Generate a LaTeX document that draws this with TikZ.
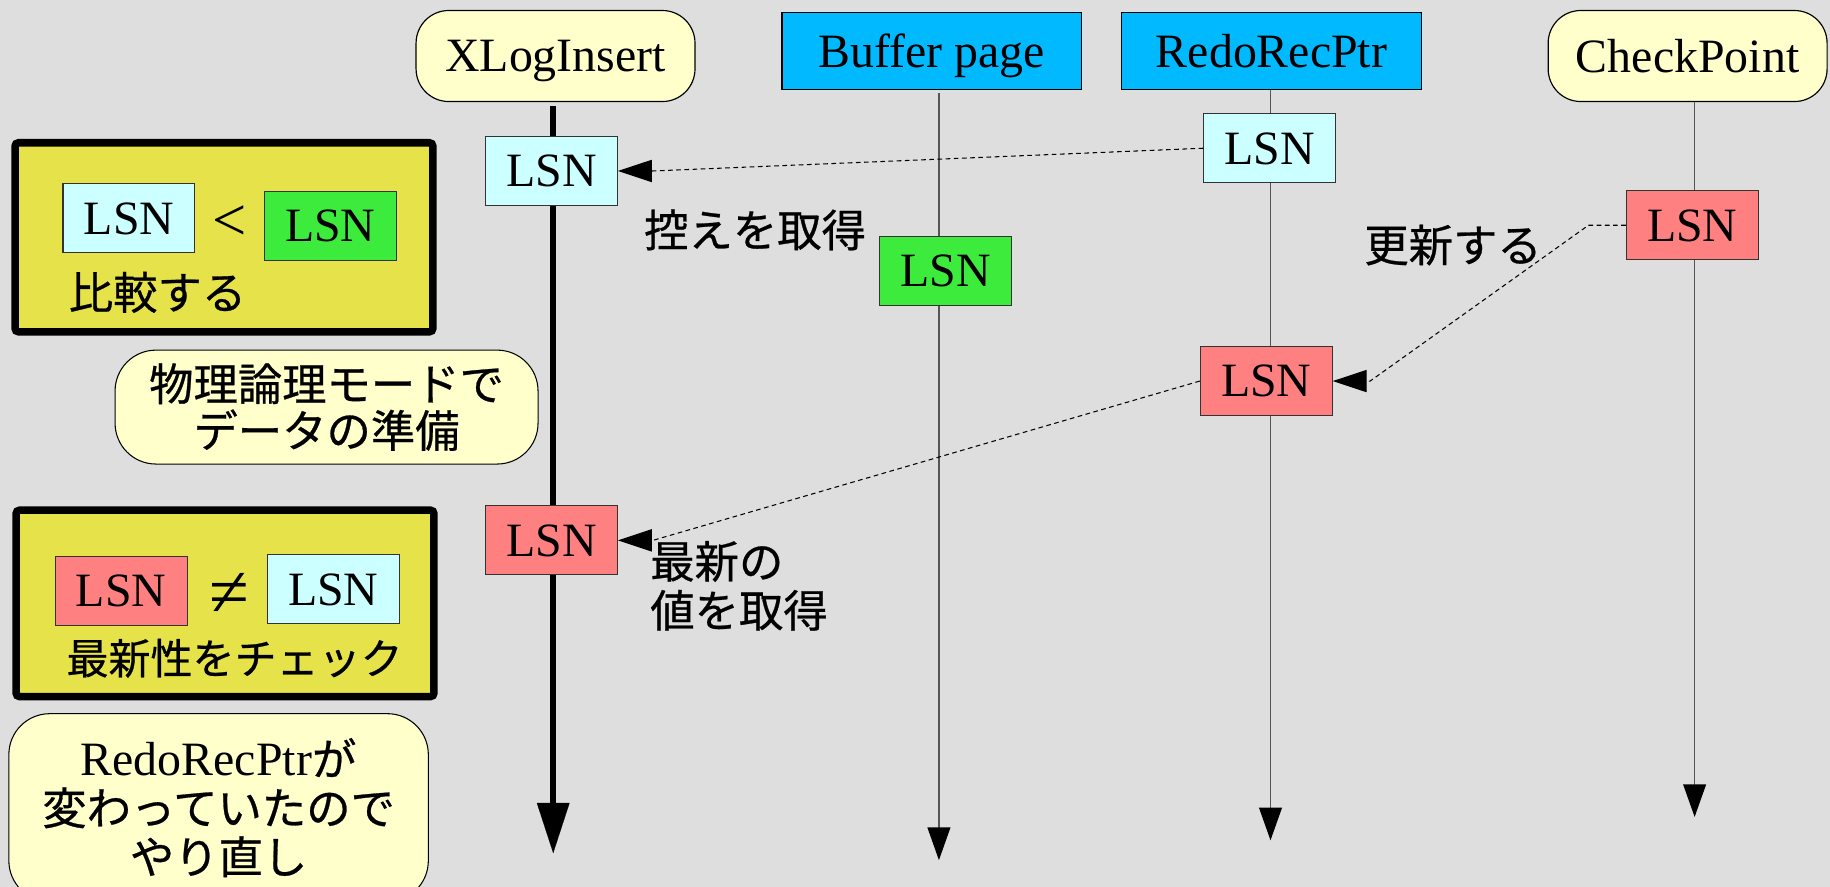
\documentclass[tikz,border=0pt]{standalone}
\usepackage{fontspec}
\setmainfont{Liberation Serif}
\newfontfamily\jp[FakeBold=0.6]{Noto Sans CJK JP}
\usetikzlibrary{arrows.meta,calc}
\definecolor{bgc}{HTML}{DEDEDE}
\definecolor{ylw}{HTML}{FFFFCC}
\definecolor{hblue}{HTML}{00B9FF}
\definecolor{lcyan}{HTML}{CCFFFF}
\definecolor{lgreen}{HTML}{3DEB3D}
\definecolor{lred}{HTML}{FF8080}
\definecolor{olv}{HTML}{E6E34A}
\definecolor{lgray}{HTML}{555555}
\tikzset{
  tmfont/.style={font=\rmfamily\fontsize{41}{48}\selectfont},
  opfont/.style={font=\rmfamily\fontsize{52}{56}\selectfont, inner sep=0pt},
  hdround/.style={draw=black, line width=1pt, fill=ylw, rounded corners=28pt, minimum width=239pt, minimum height=78pt, inner sep=0pt, tmfont, text depth=0pt},
  hdrect/.style={draw=black, line width=1pt, fill=hblue, minimum width=257pt, minimum height=66pt, inner sep=0pt, tmfont, text depth=0pt},
  lsnbox/.style={draw=black!80, line width=0.9pt, minimum width=113pt, minimum height=59pt, inner sep=0pt, tmfont, text depth=0pt},
  olvbox/.style={draw=black, line width=6.5pt, fill=olv, rounded corners=3pt, minimum width=358pt, inner sep=0pt},
  notebox/.style={draw=black, line width=0.9pt, fill=ylw, rounded corners=35pt, inner sep=0pt, align=center, font=\jp\fontsize{38}{40}\selectfont},
  jplabel/.style={inner sep=0pt, font=\jp\fontsize{38}{42}\selectfont},
  thicklife/.style={line width=5.5pt, -{Triangle[length=43pt,width=28pt,line width=0.1pt]}},
  thinlife/.style={draw=lgray, line width=1.3pt, -{Triangle[length=28pt,width=19.5pt,color=black]}},
  dasharr/.style={draw=black, line width=0.9pt, dash pattern=on 4pt off 3pt, -{Triangle[length=29pt,width=19pt]}},
}
\begin{document}
\begin{tikzpicture}[x=1pt,y=-1pt]
\useasboundingbox (0,0) rectangle (1568,760);
\fill[bgc] (0,0) rectangle (1568,760);
\clip (0,0) rectangle (1568,760);

% headers
\node[hdround] (XL) at (476,48) {XLogInsert};
\node[hdrect] (BP) at (798.5,43.5) {Buffer page};
\node[hdrect] (RR) at (1089.5,44) {RedoRecPtr};
\node[hdround] (CP) at (1446,48) {CheckPoint};

% lifelines
\coordinate (XLtop) at (474,91);
\coordinate (XLend) at (474,731);
\coordinate (BPtop) at (804.5,80);
\coordinate (BPend) at (804.5,737);
\coordinate (RRend) at (1088.6,720);
\coordinate (CPend) at (1452,700);
\draw[thicklife] (XLtop) -- (XLend);
\draw[thinlife] (BPtop) -- (BPend);
\draw[thinlife] (RR.south -| RRend) -- (RRend);
\draw[thinlife] (CP.south -| CPend) -- (CPend);

% LSN boxes on lifelines
\node[lsnbox, fill=lcyan] (L1) at (472.5,146.5) {LSN};
\node[lsnbox, fill=lcyan] (L2) at (1088,127) {LSN};
\node[lsnbox, fill=lgreen] (L3) at (810,232) {LSN};
\node[lsnbox, fill=lred] (L4) at (1450,193) {LSN};
\node[lsnbox, fill=lred] (L5) at (1085,326.5) {LSN};
\node[lsnbox, fill=lred] (L6) at (472.5,463) {LSN};

% dashed arrows
\draw[dasharr] (L2.west) -- ($(L1.east)+(30,0)$) -- (L1.east);
\draw[dasharr] (L4.west) -- ++(-32,0) -- ($(L5.east)+(32,0)$) -- (L5.east);
\draw[dasharr] (L5.west) -- ($(L6.east)+(30,0)$) -- (L6.east);

% labels
\node[jplabel] (T1) at (647,197) {控えを取得};
\node[jplabel] (T2) at (1245,210) {更新する};
\node[jplabel, align=left, anchor=west] (T3) at (557,502) {最新の\\値を取得};

% compare box
\node[olvbox, minimum height=162pt] (C1) at (191.9,203.3) {};
\node[lsnbox, fill=lcyan] (C1a) at (110.5,187) {LSN};
\node[opfont] (C1op) at (196.5,191) {<};
\node[lsnbox, fill=lgreen] (C1b) at (283,193.7) {LSN};
\node[jplabel] (C1t) at (135,250.5) {比較する};

% check box
\node[olvbox, minimum height=159.7pt] (C2) at (192.8,517) {};
\node[lsnbox, fill=lred] (C2a) at (103.8,506.5) {LSN};
\node[font=\rmfamily\fontsize{62}{64}\selectfont, inner sep=0pt] (C2op) at (196.5,510) {≠};
\node[lsnbox, fill=lcyan] (C2b) at (285.5,505) {LSN};
\node[jplabel, font=\jp\fontsize{36}{42}\selectfont] (C2t) at (201,564) {最新性をチェック};

% notes
\node[notebox, minimum width=362.4pt, minimum height=97.6pt] (N1) at (279.8,348.8) {物理論理モードで\\データの準備};
\node[notebox, minimum width=359.4pt, minimum height=161pt, font=\jp\fontsize{38}{42}\selectfont] (N2) at (187.3,692) {{\rmfamily\fontsize{41}{42}\selectfont RedoRecPtr}が\\変わっていたので\\やり直し};
\end{tikzpicture}
\end{document}
